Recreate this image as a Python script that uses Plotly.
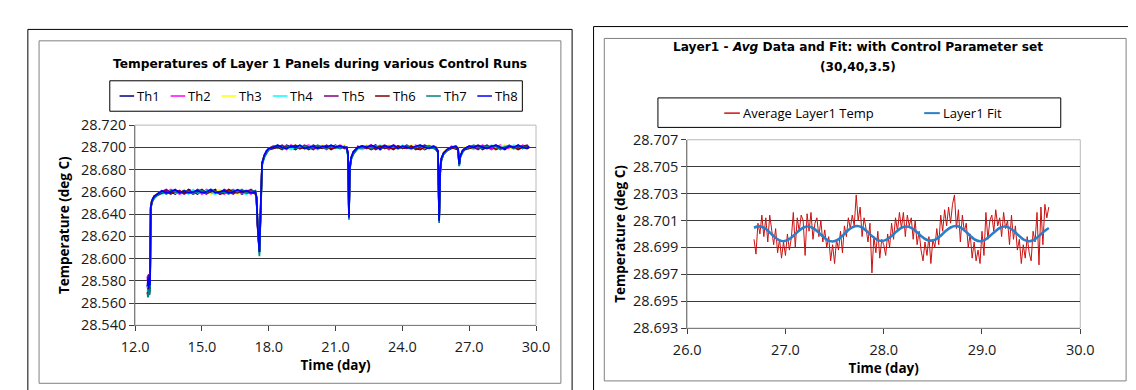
import plotly.graph_objects as go

W, H = 1136, 390

# ---------------- Left chart: Layer 1 panel temperatures ----------------
th_names = ["Th1", "Th2", "Th3", "Th4", "Th5", "Th6", "Th7", "Th8"]
th_colors = ["#000080", "#ff00ff", "#ffff00", "#00ffff", "#800080", "#800000", "#008080", "#0000ff"]

days = [12.55, 12.58, 12.61, 12.64, 12.67,
        12.70, 12.75, 12.85, 13.0,
        13.2, 13.4, 13.6, 13.8, 14.0, 14.2, 14.4, 14.6, 14.8, 15.0, 15.2, 15.4, 15.6, 15.8, 16.0, 16.2, 16.4, 16.6, 16.8, 17.0, 17.2, 17.4,
        17.45, 17.5, 17.58, 17.65, 17.7, 17.8, 17.9, 18.0,
        18.2, 18.4, 18.6, 18.8, 19.0, 19.2, 19.4, 19.6, 19.8, 20.0, 20.2, 20.4, 20.6, 20.8, 21.0, 21.2, 21.4,
        21.5, 21.56, 21.6, 21.64, 21.7, 21.8, 21.9, 22.0,
        22.2, 22.4, 22.6, 22.8, 23.0, 23.2, 23.4, 23.6, 23.8, 24.0, 24.2, 24.4, 24.6, 24.8, 25.0, 25.2, 25.4,
        25.5, 25.6, 25.65, 25.7, 25.75, 25.85, 26.0,
        26.2, 26.4, 26.5, 26.55, 26.6, 26.7, 26.8,
        27.0, 27.2, 27.4, 27.6, 27.8, 28.0, 28.2, 28.4, 28.6, 28.8, 29.0, 29.2, 29.4, 29.6, 29.68]

# temperatures in millidegrees above 28.000 deg C
th1_mk = [576, 571, 582, 574, 579,
          646, 652, 655, 658,
          659, 661, 660, 658, 661, 659, 662, 660, 658, 661, 659, 660, 662, 658, 660, 661, 659, 660, 658, 661, 659, 660,
          654, 628, 606, 652, 686, 693, 696, 699,
          700, 701, 699, 702, 700, 698, 701, 700, 699, 702, 700, 701, 699, 700, 702, 699, 701,
          699, 694, 638, 681, 691, 695, 698, 700,
          701, 699, 700, 702, 698, 701, 700, 699, 701, 700, 702, 699, 700, 701, 698, 700, 701,
          700, 696, 635, 679, 689, 694, 698,
          700, 699, 698, 684, 692, 696, 699,
          700, 701, 699, 700, 702, 699, 701, 700, 698, 701, 700, 702, 699, 701, 700]
th2_mk = [580, 585, 575, 583, 578,
          645, 651, 656, 657,
          661, 659, 662, 660, 658, 660, 661, 659, 661, 658, 662, 660, 659, 661, 658, 660, 662, 659, 661, 660, 658, 661,
          655, 632, 608, 655, 685, 692, 697, 698,
          699, 701, 700, 698, 702, 700, 699, 701, 702, 699, 701, 700, 698, 701, 700, 702, 700,
          700, 695, 640, 683, 690, 696, 697, 701,
          699, 701, 702, 699, 700, 701, 698, 702, 700, 699, 701, 700, 702, 699, 701, 700, 699,
          699, 697, 637, 681, 690, 695, 697,
          701, 700, 699, 686, 691, 697, 698,
          701, 699, 700, 702, 700, 698, 700, 702, 700, 699, 701, 699, 702, 700, 701]
th3_mk = [578, 574, 580, 572, 577,
          647, 653, 655, 659,
          660, 658, 661, 659, 660, 662, 658, 661, 660, 659, 661, 658, 660, 662, 659, 661, 660, 658, 660, 662, 660, 659,
          653, 630, 605, 653, 687, 693, 695, 699,
          701, 699, 700, 701, 699, 702, 700, 698, 700, 701, 699, 702, 700, 699, 701, 700, 702,
          698, 693, 637, 682, 691, 694, 698, 699,
          700, 702, 699, 701, 700, 699, 702, 700, 698, 701, 699, 702, 701, 700, 699, 702, 700,
          701, 696, 634, 680, 689, 696, 698,
          699, 701, 700, 685, 693, 696, 700,
          699, 701, 702, 699, 700, 701, 699, 701, 702, 700, 698, 701, 700, 699, 702]
th4_mk = [572, 568, 577, 570, 575,
          644, 651, 654, 657,
          658, 660, 659, 661, 659, 660, 658, 662, 659, 660, 661, 659, 658, 660, 661, 659, 661, 660, 659, 658, 661, 660,
          652, 627, 604, 650, 684, 691, 696, 698,
          700, 699, 701, 700, 698, 700, 702, 699, 701, 700, 698, 701, 700, 702, 699, 701, 700,
          699, 692, 636, 680, 689, 695, 697, 699,
          698, 700, 701, 700, 702, 699, 701, 700, 699, 702, 700, 698, 701, 700, 702, 699, 701,
          699, 695, 633, 678, 688, 694, 697,
          700, 699, 699, 683, 691, 695, 698,
          700, 698, 701, 700, 699, 702, 700, 699, 701, 700, 702, 700, 699, 701, 700]
th5_mk = [584, 579, 586, 577, 582,
          646, 652, 656, 658,
          660, 662, 659, 660, 661, 658, 660, 659, 662, 660, 658, 661, 660, 659, 662, 660, 658, 661, 659, 660, 662, 659,
          656, 631, 607, 654, 686, 692, 696, 699,
          701, 700, 702, 699, 701, 700, 699, 702, 700, 698, 701, 700, 702, 699, 700, 701, 699,
          700, 694, 639, 682, 690, 696, 698, 700,
          700, 699, 701, 698, 700, 702, 700, 699, 701, 700, 699, 701, 698, 700, 702, 700, 699,
          700, 697, 636, 680, 690, 695, 698,
          700, 700, 698, 685, 692, 697, 699,
          701, 700, 698, 701, 699, 700, 702, 699, 700, 701, 699, 700, 701, 702, 699]
th6_mk = [570, 566, 574, 568, 573,
          645, 650, 655, 657,
          659, 660, 658, 661, 660, 659, 661, 658, 660, 662, 659, 660, 661, 658, 659, 662, 660, 659, 661, 659, 660, 658,
          654, 629, 606, 651, 685, 692, 695, 698,
          699, 700, 698, 701, 700, 702, 699, 700, 698, 701, 700, 699, 701, 698, 700, 701, 700,
          699, 693, 638, 681, 690, 694, 697, 700,
          701, 700, 698, 700, 701, 699, 700, 698, 701, 699, 700, 701, 699, 698, 700, 701, 700,
          698, 696, 635, 679, 689, 694, 697,
          699, 700, 698, 684, 692, 696, 698,
          699, 700, 701, 698, 700, 701, 698, 700, 699, 701, 700, 698, 700, 701, 699]
th7_mk = [569, 565, 572, 567, 571,
          644, 651, 654, 657,
          660, 658, 661, 660, 659, 661, 660, 658, 660, 661, 659, 662, 660, 659, 660, 658, 661, 660, 662, 659, 660, 661,
          651, 626, 602, 649, 684, 691, 695, 698,
          700, 702, 699, 700, 701, 699, 700, 701, 699, 700, 702, 700, 699, 701, 700, 699, 701,
          698, 692, 635, 679, 689, 694, 697, 699,
          700, 701, 699, 701, 699, 700, 701, 701, 699, 700, 701, 699, 700, 702, 700, 701, 699,
          699, 695, 632, 677, 688, 694, 697,
          700, 701, 699, 683, 691, 696, 699,
          700, 702, 700, 699, 701, 700, 701, 698, 700, 702, 699, 701, 700, 700, 701]
th8_mk = [575, 582, 573, 585, 576,
          646, 652, 656, 658,
          661, 659, 660, 662, 659, 661, 659, 660, 661, 659, 660, 662, 659, 660, 661, 659, 660, 662, 660, 661, 659, 660,
          655, 630, 606, 656, 686, 693, 697, 699,
          700, 702, 700, 699, 701, 700, 702, 699, 700, 701, 699, 701, 700, 702, 700, 701, 700,
          700, 694, 637, 682, 691, 696, 698, 700,
          701, 700, 702, 700, 699, 701, 700, 702, 699, 701, 700, 699, 701, 702, 700, 699, 701,
          700, 696, 634, 680, 690, 695, 698,
          700, 701, 699, 685, 692, 697, 699,
          701, 700, 702, 700, 699, 701, 702, 700, 699, 701, 700, 702, 700, 699, 701]
th_series_mk = [th1_mk, th2_mk, th3_mk, th4_mk, th5_mk, th6_mk, th7_mk, th8_mk]

left_xticks = [12.0, 15.0, 18.0, 21.0, 24.0, 27.0, 30.0]
left_yticks = [28.54, 28.56, 28.58, 28.60, 28.62, 28.64, 28.66, 28.68, 28.70, 28.72]

# ---------------- Right chart: average data and fit ----------------
avg_start_day, avg_step_day = 26.68, 0.02
# average temperature, in units of 0.0001 deg C relative to 28.700
avg_temp_e4 = [-4, -15, 8, 0, 14, -2, 12, -6, 14, 2, -8, 4, -14, -4, -18, -6, -16, 0, -12, -3, 16, -10, 12, 2, 14,
               10, -16, 15, 2, 16, -4, 8, 12, -2, 10, -6, 3, -10, -2, -20, -8, -22, -4, -12, 2, -14, 6, -2, 12, 4,
               14, 6, 29, 10, 20, -2, 12, 4, -6, 8, -29, -2, -14, 2, -18, -4, -8, -16, 0, -10, 8, -4, 12, 2, 16,
               4, 16, -2, 14, 6, 12, -4, 10, -8, 2, -12, -20, -6, -16, -2, -22, -4, -10, 4, -8, 14, 2, 18, 6, 20,
               8, 22, 29, 4, 18, -6, 14, 2, 8, -10, 0, -18, -6, -20, -12, -22, 2, -16, 16, -4, 10, 14, 2, 18, 6,
               12, -2, 16, 4, 10, -8, 14, -4, 6, -12, -4, -22, -8, -18, -2, -14, -20, 2, -6, 16, -23, 20, -8, 22, 12, 20]

fit_start_day, fit_step_day = 26.68, 0.05
fit_temp = [28.70046, 28.70056, 28.70046, 28.70019, 28.69984, 28.69956, 28.69946, 28.69957, 28.69986, 28.70020,
            28.70046, 28.70055, 28.70044, 28.70016, 28.69982, 28.69954, 28.69944, 28.69956, 28.69986, 28.70022,
            28.70049, 28.70059, 28.70048, 28.70019, 28.69985, 28.69958, 28.69948, 28.69958, 28.69985, 28.70018,
            28.70045, 28.70055, 28.70045, 28.70018, 28.69985, 28.69959, 28.69950, 28.69960, 28.69987, 28.70021,
            28.70048, 28.70059, 28.70049, 28.70021, 28.69986, 28.69957, 28.69946, 28.69956, 28.69984, 28.70017,
            28.70044, 28.70055, 28.70045, 28.70018, 28.69984, 28.69956, 28.69946, 28.69957, 28.69985, 28.70018,
            28.70044]

right_xticks = [26.0, 27.0, 28.0, 29.0, 30.0]
right_yticks = [28.693, 28.695, 28.697, 28.699, 28.701, 28.703, 28.705, 28.707]

right_names = ["Average Layer1 Temp", "Layer1 Fit"]
right_colors = ["#cc1111", "#2a7fc8"]

left_title = "Temperatures of Layer 1 Panels during various Control Runs"
right_title_1 = "Layer1 - <i>Avg</i> Data and Fit: with Control Parameter set"
right_title_2 = "(30,40,3.5)"
y_title = "Temperature (deg C)"
x_title = "Time (day)"

# ---------------- Build figure ----------------
def px(x):
    return x / W

def py(y):
    return 1 - y / H

fig = go.Figure()

for name, color, vals in zip(th_names, th_colors, th_series_mk):
    fig.add_trace(go.Scatter(x=days, y=[28 + v / 1000 for v in vals], mode="lines", name=name,
                             line=dict(color=color, width=1.7), showlegend=False,
                             xaxis="x", yaxis="y"))

avg_days = [round(avg_start_day + avg_step_day * i, 2) for i in range(len(avg_temp_e4))]
fit_days = [round(fit_start_day + fit_step_day * i, 2) for i in range(len(fit_temp))]
fig.add_trace(go.Scatter(x=avg_days, y=[28.7 + v / 10000 for v in avg_temp_e4], mode="lines",
                         name=right_names[0], line=dict(color=right_colors[0], width=1),
                         showlegend=False, xaxis="x2", yaxis="y2"))
fig.add_trace(go.Scatter(x=fit_days, y=fit_temp, mode="lines", name=right_names[1],
                         line=dict(color=right_colors[1], width=2.6, shape="spline"),
                         showlegend=False, xaxis="x2", yaxis="y2"))

tick_font = dict(family="Open Sans, Liberation Sans, sans-serif", size=14.5, color="#1a1a1a")
title_font_axis = dict(family="Open Sans, Liberation Sans, sans-serif", size=13.5, color="#000000")

axis_common = dict(showgrid=False, zeroline=False, showline=True, linecolor="#7f7f7f", linewidth=1,
                   ticks="outside", ticklen=5, tickcolor="#404040", tickfont=tick_font)

fig.update_layout(
    width=W, height=H, margin=dict(l=0, r=0, t=0, b=0),
    paper_bgcolor="white", plot_bgcolor="white", showlegend=False,
    xaxis=dict(domain=[px(116), px(527)], range=[12, 30], tickvals=left_xticks, tickformat=".1f",
               anchor="y", ticklabelstandoff=3,
               title=dict(text="<b>" + x_title + "</b>", font=title_font_axis, standoff=5), **axis_common),
    yaxis=dict(domain=[py(323), py(112.6)], range=[28.54, 28.72], tickvals=left_yticks, tickformat=".3f",
               anchor="x", showgrid=True, gridcolor="#3a3a3a", gridwidth=1,
               title=dict(text="<b>" + y_title + "</b>", font=title_font_axis, standoff=8),
               **{k: v for k, v in axis_common.items() if k != "showgrid"}),
    xaxis2=dict(domain=[px(682), px(1085)], range=[26, 30], tickvals=right_xticks, tickformat=".1f",
                anchor="y2", ticklabelstandoff=3,
                title=dict(text="<b>" + x_title + "</b>", font=title_font_axis, standoff=5), **axis_common),
    yaxis2=dict(domain=[py(326), py(128)], range=[28.693, 28.707], tickvals=right_yticks, tickformat=".3f",
                anchor="x2", showgrid=True, gridcolor="#3a3a3a", gridwidth=1,
                title=dict(text="<b>" + y_title + "</b>", font=title_font_axis, standoff=4),
                **{k: v for k, v in axis_common.items() if k != "showgrid"}),
)

shapes = []
# chart frames (outer black, inner gray)
shapes.append(dict(type="rect", xref="paper", yref="paper", x0=px(6), x1=px(564), y0=py(400), y1=py(12),
                   line=dict(color="#000000", width=1)))
shapes.append(dict(type="rect", xref="paper", yref="paper", x0=px(17.5), x1=px(552.5), y0=py(384), y1=py(24),
                   line=dict(color="#808080", width=1)))
shapes.append(dict(type="rect", xref="paper", yref="paper", x0=px(586), x1=px(1150), y0=py(400), y1=py(9),
                   line=dict(color="#000000", width=1)))
shapes.append(dict(type="rect", xref="paper", yref="paper", x0=px(597), x1=px(1132), y0=py(381.5), y1=py(21.5),
                   line=dict(color="#808080", width=1)))
# plot-area borders
for xr, yr in (("x domain", "y domain"), ("x2 domain", "y2 domain")):
    shapes.append(dict(type="rect", xref=xr, yref=yr, x0=0, x1=1, y0=0, y1=1,
                       line=dict(color="#b8b8b8", width=1), layer="below"))

annotations = []
legend_font = dict(family="Open Sans, Liberation Sans, sans-serif", size=13, color="#000000")
title_font = dict(family="Comic Sans MS, DejaVu Sans, sans-serif", size=12.2, color="#000000")

# left legend (box + entries)
shapes.append(dict(type="rect", xref="paper", yref="paper", x0=px(90), x1=px(513), y0=py(98), y1=py(66),
                   line=dict(color="#000000", width=1)))
for i, (name, color) in enumerate(zip(th_names, th_colors)):
    x0 = 100 + i * 52.4
    shapes.append(dict(type="line", xref="paper", yref="paper", x0=px(x0), x1=px(x0 + 15), y0=py(82), y1=py(82),
                       line=dict(color=color, width=1.5)))
    annotations.append(dict(text=name, xref="paper", yref="paper", x=px(x0 + 16), y=py(82),
                            xanchor="left", yanchor="middle", showarrow=False, font=legend_font))

# right legend
shapes.append(dict(type="rect", xref="paper", yref="paper", x0=px(652), x1=px(1065), y0=py(115), y1=py(84),
                   line=dict(color="#000000", width=1)))
for x0, name, color, lw in ((720, right_names[0], right_colors[0], 1.5), (925, right_names[1], right_colors[1], 2)):
    shapes.append(dict(type="line", xref="paper", yref="paper", x0=px(x0), x1=px(x0 + 16), y0=py(100), y1=py(100),
                       line=dict(color=color, width=lw)))
    annotations.append(dict(text=name, xref="paper", yref="paper", x=px(x0 + 17), y=py(100),
                            xanchor="left", yanchor="middle", showarrow=False, font=legend_font))

# titles
annotations.append(dict(text="<b>" + left_title + "</b>", xref="paper", yref="paper", x=px(306), y=py(48),
                        xanchor="center", yanchor="middle", showarrow=False, font=title_font))
annotations.append(dict(text="<b>" + right_title_1 + "</b>", xref="paper", yref="paper", x=px(857), y=py(31),
                        xanchor="center", yanchor="middle", showarrow=False, font=title_font))
annotations.append(dict(text="<b>" + right_title_2 + "</b>", xref="paper", yref="paper", x=px(857), y=py(52),
                        xanchor="center", yanchor="middle", showarrow=False, font=title_font))

fig.update_layout(shapes=shapes, annotations=annotations)

for s in th_series_mk:
    assert len(s) == len(days), len(s)

fig.write_html("out.html")
